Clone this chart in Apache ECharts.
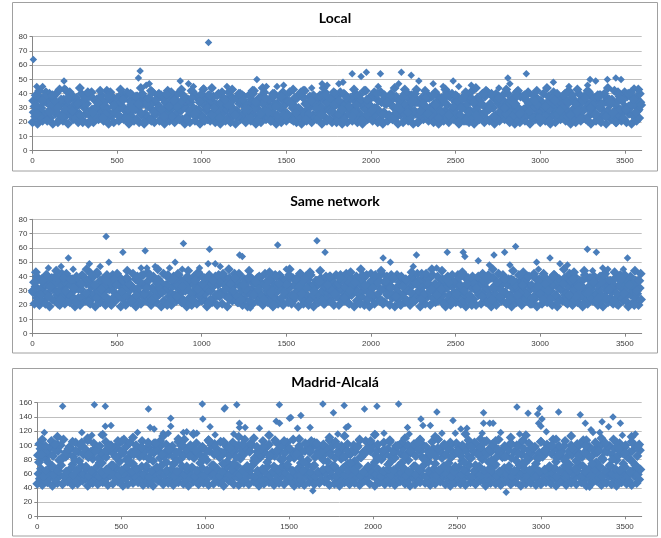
<!DOCTYPE html>
<html>
<head>
<meta charset="utf-8">
<title>Latency scatter</title>
<script src="https://cdn.jsdelivr.net/npm/echarts@6/dist/echarts.min.js"></script>
<style>
html, body { margin: 0; padding: 0; background: #fff; }
#main { width: 661px; height: 538px; }
</style>
</head>
<body>
<div id="main"></div>
<script>
// chart titles
var titles = ['Local', 'Same network', 'Madrid-Alcalá'];

var localBand1 = [20,19,21,22,19,20,21,19,22,20,21,19,20,22,21,19,20,21,22,19,
  21,20,19,22,20,21,19,21,20,22,19,20,21,19,22,21,20,19,21,20,
  19,22,20,21,19,20,22,21,19,20,21,22,20,19,21,20,22,19,21,20,
  22,19,20,21,20,19,22,21,20,19,21,22,19,20,21,19,20,22,21,20,
  19,21,20,22,19,21,20,19,22,20,21,19,21,22,20,19,20,21,19,22,
  20,21,19,20,22,21,19,20,21,22,19,21,20,19,22,20,21,20,19,21];
var localBand2 = [24,22,25,23,26,22,24,25,23,22,26,24,23,25,22,24,26,23,25,24,
  22,25,24,23,26,22,25,24,23,22,24,26,25,23,22,24,25,26,23,24,
  25,23,22,26,24,25,23,24,22,26,23,25,24,22,25,23,26,24,22,25,
  23,24,26,22,25,23,24,25,22,26,24,23,25,22,24,26,23,25,24,22,
  26,23,24,25,22,24,23,26,25,22,23,24,26,25,23,22,24,25,23,26,
  22,24,25,23,26,24,22,25,23,24,26,22,25,24,23,25,22,26,24,23];
var localBand3 = [27,29,26,28,30,25,27,29,28,26,30,27,25,28,29,26,27,30,28,25,
  29,27,26,30,28,27,25,29,26,28,30,27,29,25,28,26,27,30,29,26,
  28,25,27,29,30,26,28,27,25,29,26,30,28,27,29,25,26,28,30,27,
  26,29,28,25,27,30,26,29,28,27,25,30,27,26,29,28,25,27,30,26,
  29,28,26,27,25,30,28,29,26,27,30,25,28,26,29,27,28,30,25,29,
  27,26,30,28,25,29,27,26,28,30,27,25,29,28,26,30,27,29,25,28];
var localBand4 = [32,30,34,31,29,33,32,30,31,34,33,29,31,32,30,34,33,31,29,32,
  30,33,31,34,32,29,30,33,32,31,34,30,29,32,33,31,30,34,32,29,
  33,31,32,30,34,29,31,33,30,32,34,31,29,33,32,30,31,34,29,32,
  31,34,30,32,33,29,31,30,34,33,32,29,30,31,33,34,32,30,29,31,
  34,32,29,31,30,33,34,31,32,29,30,33,31,34,32,30,29,33,31,32,
  30,29,33,32,31,34,30,32,29,33,31,30,34,32,33,29,31,30,32,34];
var localBand5 = [35,37,34,36,38,33,36,35,37,34,33,38,36,35,34,37,33,36,38,35,
  34,36,37,33,35,38,34,37,36,33,35,34,38,36,37,35,33,34,36,38,
  37,35,33,36,34,38,35,37,33,36,35,34,37,38,33,36,35,37,34,36,
  38,33,35,36,37,34,33,38,35,36,34,37,35,33,36,38,34,35,37,33,
  36,34,38,35,33,37,36,34,35,38,33,36,37,34,35,33,38,36,34,37,
  35,33,36,38,34,35,37,33,36,34,38,35,33,37,36,34,35,38,33,36];
var localBand6 = [39,37,41,38,40,36,42,39,37,40,38,41,36,39,42,38,37,40,41,39,
  38,40,36,41,39,37,42,38,40,39,36,41,37,43,39,38,40,37,41,36,
  40,38,39,42,37,41,36,40,38,39,41,37,40,42,38,36,39,41,37,40,
  41,39,37,40,36,42,38,39,41,37,40,38,36,41,39,43,37,40,38,39,
  37,41,40,38,36,39,42,37,40,41,38,36,39,40,37,42,38,41,39,36,
  40,38,41,37,39,42,36,40,38,41,37,39,40,36,42,38,41,39,37,40];
var localBand7 = [42,40,43,41,44,39,42,41,43,40,44,42,39,41,43,42,40,44,41,43,
  39,42,44,40,41,43,42,39,44,41,40,43,42,41,39,44,43,40,42,41,
  43,39,41,44,42,40,43,41,39,42,44,40,41,43,42,39,44,41,40,43];
var localFill1 = [31,24,38,27,35,22,29,40,33,25,37,21,30,36,26,39,28,34,23,32,
  38,26,33,21,36,29,40,24,31,35,22,37,27,34,30,25,39,23,32,28,
  24,36,29,40,22,33,27,38,31,25,35,21,30,37,26,34,23,39,28,32,
  35,22,31,27,39,24,36,30,21,33,38,26,29,40,23,34,28,37,25,32,
  27,39,23,34,30,21,37,25,33,28,40,22,36,31,24,38,26,35,29,32,
  22,33,37,26,30,24,39,28,35,21,32,38,25,34,27,40,23,31,36,29];
var localFill2 = [26,35,21,39,30,24,37,28,33,20,41,27,34,23,38,31,25,36,22,29,
  33,20,37,27,40,24,31,35,22,38,28,26,34,21,39,30,23,36,32,25,
  40,29,23,34,26,37,21,31,38,24,33,27,41,22,35,30,25,39,28,20,
  29,37,24,32,21,36,28,40,25,34,22,31,38,27,35,20,33,26,39,23,
  36,25,31,20,38,27,34,22,40,29,24,37,30,21,33,26,39,28,35,23,
  31,21,35,28,40,25,33,22,37,30,26,39,24,34,20,36,29,41,27,32];
var localOutliers = [[5,64],[25,45],[60,45],[186,49],[190,44],[626,51],[636,56],[672,46],
  [690,47],[873,49],[922,47],[951,45],[1012,44],[1040,76],[1149,45],[1326,50],[1382,45],
  [1445,45],[1484,46],[1650,44],[1711,47],[1741,46],[1810,47],[1835,48],[1889,54],[1942,52],
  [1973,55],[2043,45],[2056,54],[2164,47],[2180,55],[2238,53],[2283,49],[2368,47],[2427,45],
  [2486,49],[2519,45],[2593,46],[2756,44],[2809,51],[2821,47],[2918,54],[3078,48],[3170,45],
  [3218,43],[3280,46],[3295,50],[3328,49],[3397,50],[3447,51],[3478,50],[3555,44]];

// Same network
var sameBand1 = [21,20,22,19,23,20,21,22,19,20,23,21,19,22,20,21,23,19,20,22,
  19,21,23,20,22,19,21,20,23,22,19,20,21,23,19,22,20,21,19,23,
  22,20,19,21,23,20,22,19,21,20,22,23,19,21,20,19,22,21,23,20,
  20,23,21,19,22,20,19,21,23,22,20,19,21,22,20,23,19,21,20,22,
  23,19,20,22,21,19,23,20,21,22,19,20,23,21,19,22,20,23,21,19,
  21,22,20,19,23,21,20,22,19,21,23,20,19,22,21,20,23,19,22,20];
var sameBand2 = [25,23,26,24,27,23,25,26,24,23,27,25,24,26,23,25,27,24,26,25,
  23,26,25,24,27,23,26,25,24,23,25,27,26,24,23,25,26,27,24,25,
  26,24,23,27,25,26,24,25,23,27,24,26,25,23,26,24,27,25,23,26,
  24,25,27,23,26,24,25,26,23,27,25,24,26,23,25,27,24,26,25,23,
  27,24,25,26,23,25,24,27,26,23,24,25,27,26,24,23,25,26,24,27,
  23,25,26,24,27,25,23,26,24,25,27,23,26,25,24,26,23,27,25,24];
var sameBand3 = [29,27,30,28,31,29,27,28,30,31,27,29,28,30,27,31,29,28,27,30,
  31,28,29,27,30,28,31,29,27,28,30,29,31,27,28,30,27,29,31,28,
  27,30,28,31,29,27,30,28,29,31,28,27,30,29,27,31,28,30,29,27,
  30,29,27,31,28,30,29,27,28,31,30,27,29,28,31,27,30,28,29,30,
  28,31,27,29,30,28,27,31,29,30,27,28,31,29,27,30,28,29,31,27,
  29,28,30,27,31,29,28,30,27,29,31,28,27,30,29,28,31,27,30,28];
var sameBand4 = [33,31,34,32,35,31,33,34,32,31,35,33,32,34,31,33,35,32,34,33,
  31,34,33,32,35,31,34,33,32,31,33,35,34,32,31,33,34,35,32,33,
  34,32,31,35,33,34,32,33,31,35,32,34,33,31,34,32,35,33,31,34,
  32,33,35,31,34,32,33,34,31,35,33,32,34,31,33,35,32,34,33,31,
  35,32,33,34,31,33,32,35,34,31,32,33,35,34,32,31,33,34,32,35,
  31,33,34,32,35,33,31,34,32,33,35,31,34,33,32,34,31,35,33,32];
var sameBand5 = [36,38,35,37,39,34,36,38,37,35,39,36,34,37,38,35,36,39,37,34,
  38,36,35,39,37,36,34,38,35,37,39,36,38,34,37,35,36,39,38,35,
  37,34,36,38,39,35,37,36,34,38,35,39,37,36,38,34,35,37,39,36,
  35,38,37,34,36,39,35,38,37,36,34,39,36,35,38,37,34,36,39,35,
  38,37,35,36,34,39,37,38,35,36,39,34,37,35,38,36,37,39,34,38,
  36,35,39,37,34,38,36,35,37,39,36,34,38,37,35,39,36,38,34,37];
var sameBand6 = [40,38,41,39,37,42,40,38,39,41,37,40,42,38,39,41,40,37,38,42,
  39,41,37,40,38,42,39,40,41,37,38,40,42,39,41,38,37,40,39,42,
  41,38,40,37,39,42,38,41,40,37,39,38,42,40,41,37,39,40,38,41,
  37,42,39,40,38,41,37,39,42,40,38,41,39,37,40,42,38,39,41,40,
  38,40,37,41,42,39,38,40,37,41,39,42,40,38,37,41,39,40,42,38,
  40,37,41,38,39,42,40,37,41,39,38,40,42,37,39,41,38,40,37,42];
var sameBand7 = [43,41,44,42,40,45,43,41,42,44,40,43,45,41,42,44,43,40,41,45,
  42,44,40,43,41,45,42,43,44,40,41,43,45,42,44,41,40,43,42,45,
  44,41,43,40,42,45,41,44,43,40,42,41,45,43,44,40,42,43,41,44];
var sameFill1 = [30,23,37,26,34,21,39,28,32,25,36,22,40,29,33,24,38,27,31,35,
  22,36,28,41,25,32,30,23,38,26,34,21,37,29,33,24,40,27,31,35,
  39,24,31,27,36,22,33,29,40,25,35,21,38,28,32,26,37,23,34,30,
  26,38,22,34,29,41,24,32,36,21,28,39,25,33,30,23,37,27,35,31,
  33,21,36,25,39,30,23,35,28,40,22,32,26,38,24,34,29,37,21,31,
  28,35,24,40,31,22,37,26,33,29,39,23,36,25,32,21,38,27,34,30];
var sameFill2 = [36,27,21,33,40,24,30,38,22,35,28,42,25,31,37,20,34,29,39,23,
  27,41,32,23,36,29,20,38,26,33,40,24,31,35,21,37,28,42,25,30,
  22,34,39,27,31,24,37,20,35,29,41,26,33,38,23,30,36,21,40,28,
  39,25,30,36,21,34,28,41,23,37,32,26,20,38,29,35,24,42,31,27,
  31,38,23,28,41,35,20,32,26,39,24,36,30,22,37,27,34,40,25,33,
  24,30,40,22,35,27,38,33,21,29,36,25,41,31,23,39,28,34,20,37];
var sameOutliers = [[94,46],[169,47],[212,53],[240,45],[336,49],[400,47],[435,68],[451,50],
  [534,57],[642,46],[666,58],[676,46],[725,47],[810,46],[843,50],[885,45],[892,63],[987,46],
  [1038,49],[1046,59],[1080,49],[1109,47],[1224,55],[1240,54],[1287,18],[1449,62],[1500,45],
  [1681,65],[1729,57],[2072,53],[2115,50],[2250,47],[2269,55],[2388,46],[2451,57],[2545,57],
  [2555,54],[2634,51],[2700,48],[2727,55],[2790,57],[2821,48],[2855,61],[2979,50],[2990,45],
  [3058,53],[3117,49],[3161,48],[3279,59],[3310,44],[3332,57],[3370,46],[3400,45],[3492,45],[3516,53]];

// Madrid-Alcalá
var madridBand1 = [46,44,48,43,47,45,49,44,46,50,43,47,45,48,44,46,49,43,45,47,
  48,44,46,43,50,45,47,44,48,46,43,49,45,47,44,46,48,43,50,45,
  44,47,45,49,43,46,48,44,47,45,50,43,46,44,48,45,47,49,44,46,
  43,48,45,47,44,50,46,43,48,45,47,44,49,46,43,45,48,47,44,46,
  49,45,43,47,46,44,48,45,50,43,47,46,44,49,45,48,43,46,47,44,
  45,48,46,43,49,44,47,45,48,43,46,50,44,47,45,43,48,46,44,47];
var madridBand2 = [53,50,55,52,57,49,54,51,56,53,50,55,49,52,57,54,51,53,56,50,
  55,52,49,54,57,51,53,50,56,52,55,49,54,51,57,53,50,55,52,56,
  51,54,57,49,53,55,50,52,56,54,49,53,51,57,55,50,52,54,56,49,
  54,51,53,56,50,55,57,52,49,53,51,56,54,50,55,52,57,49,53,51,
  56,53,50,54,52,57,49,55,51,53,56,50,54,52,49,57,53,51,55,50,
  52,55,54,49,56,51,53,57,50,54,52,55,49,56,53,51,54,50,57,52];
var madridBand3 = [60,57,62,59,64,56,61,58,63,60,57,62,56,59,64,61,58,60,63,57,
  62,59,56,61,64,58,60,57,63,59,62,56,61,58,64,60,57,62,59,63,
  58,61,64,56,60,62,57,59,63,61,56,60,58,64,62,57,59,61,63,56,
  61,58,60,63,57,62,64,59,56,60,58,63,61,57,62,59,64,56,60,58,
  63,60,57,61,59,64,56,62,58,60,63,57,61,59,56,64,60,58,62,57,
  59,62,61,56,63,58,60,64,57,61,59,62,56,63,60,58,61,57,64,59];
var madridBand4 = [67,64,70,66,72,63,68,65,71,67,64,69,63,66,72,68,65,70,63,67,
  70,66,64,69,72,65,67,63,71,66,69,64,68,65,72,67,63,70,66,71,
  65,68,72,64,67,70,63,66,71,69,64,67,65,72,70,63,66,68,71,64,
  68,65,67,71,63,69,72,66,64,67,65,71,68,63,70,66,72,64,67,65,
  71,67,63,69,66,72,64,70,65,67,71,63,68,66,64,72,67,65,69,63,
  66,70,68,64,71,65,67,72,63,68,66,70,64,71,67,65,69,63,72,66];
var madridBand5 = [76,82,71,79,84,73,78,70,81,75,83,72,77,80,74,84,71,78,82,76,
  73,80,70,83,75,79,72,84,77,74,81,71,78,83,76,70,80,73,82,75,
  79,72,84,77,71,81,74,78,83,70,76,80,73,82,75,79,71,84,77,74,
  82,75,70,78,84,72,80,76,73,83,71,79,75,81,74,84,70,77,82,73,
  78,71,83,76,80,72,79,74,81,70];
var madridBand6 = [86,83,90,85,92,82,88,84,91,87,83,89,82,86,92,88,84,90,83,87,
  90,85,82,89,92,84,87,83,91,86,89,82,88,84,92,87,83,90,85,91,
  84,88,92,82,87,90,83,85,91,89,82,86,84,92,90,83,85,88,91,82,
  88,84,87,91,83,89,92,86,82,87,84,91,88,83,90,85,92,82,86,84,
  91,87,83,89,85,92,82,90,84,86,91,83,88,85,82,92,87,84,89,83,
  85,90,88,82,91,84,86,92,83,88,85,90,82,91,87,84,89,83,92,85];
var madridBand7 = [95,91,98,93,100,90,96,92,99,94,91,97,90,93,100,96,92,98,90,95,
  98,93,91,97,100,92,95,90,99,94,97,91,96,92,100,95,90,98,93,99,
  92,96,100,91,95,98,90,93,99,97,91,94,92,100,98,90,93,96,99,91,
  96,92,94,99,90,97,100,93,91,95,92,99,96,90,98,94,100,91,95,92,
  99,95,90,97,93,100,91,98,92,94,99,90,96,93,91,100,95,92,97,90,
  93,98,96,91,99,92,94,100,90,96,93,98,91,99,95,92,97,90,100,93];
var madridBand8 = [102,99,106,101,108,98,104,100,107,103,99,105,98,101,108,104,100,106,98,103,
  106,101,99,105,108,100,103,98,107,102,105,99,104,100,108,103,98,106,101,107,
  100,104,108,99,103,106,98,101,107,105,99,102,100,108,106,98,101,104,107,99,
  104,100,102,107,98,105,108,101,99,103,100,107,104,98,106,102,108,99,103,100,
  107,103,98,105,101,108,99,106,100,102,107,98,104,101,99,108,103,100,105,98];
var madridBand9 = [108,112,105,110,115,106,111,104,113,109,116,107,105,112,110,114,106,109,104,111,
  113,107,115,105,110,108,112,104,116,109,106,111,114,105,108,113,107,110,104,112];
var madridFill1 = [88,76,101,82,95,79,104,86,92,75,99,84,106,78,90,97,81,103,87,94,
  77,100,85,93,80,105,89,74,96,83,102,91,78,98,86,104,81,95,88,76,
  93,103,79,87,100,84,75,97,90,106,82,94,77,99,85,92,104,80,89,96,
  101,83,91,76,98,87,105,79,94,84,102,88,75,97,81,93,100,86,78,95,
  85,99,74,92,103,80,96,89,77,101];
var madridOutliers = [[42,118],[151,155],[265,118],[325,114],[340,157],[380,115],[405,155],
  [405,127],[439,128],[597,118],[662,151],[672,125],[696,123],[750,117],[780,117],[795,138],
  [795,127],[870,118],[890,119],[950,117],[983,158],[986,137],[1029,126],[1059,115],[1113,151],
  [1119,153],[1170,116],[1188,157],[1204,131],[1204,125],[1238,125],[1323,124],[1423,134],
  [1442,157],[1443,131],[1502,138],[1510,139],[1550,124],[1570,142],[1625,125],[1641,36],
  [1701,158],[1764,146],[1790,116],[1828,156],[1840,125],[1852,127],[1949,151],[2015,116],
  [2023,155],[2065,117],[2152,158],[2205,125],[2215,116],[2285,137],[2297,128],[2341,128],
  [2380,147],[2410,117],[2476,135],[2490,117],[2523,123],[2559,124],[2650,117],[2658,146],
  [2658,131],[2695,131],[2715,131],[2760,118],[2793,34],[2857,154],[2873,116],[2923,145],
  [2980,144],[2986,131],[2992,152],[3000,127],[3006,137],[3032,119],[3105,147],[3234,143],
  [3264,131],[3290,41],[3298,122],[3310,118],[3350,118],[3364,133],[3403,126],[3429,140],
  [3473,131],[3485,114],[3562,116]];

// y axis ranges per panel
var yMax = [80, 80, 160];
var yStep = [10, 10, 20];

// slice -> [sample index, value] (first sample, sample spacing)
function slice(values, first, every) {
    return values.map(function(v, i) { return [first + i * every, v]; });
}

var bandData = [
    [].concat(slice(localBand1, 0, 30), slice(localBand2, 15, 30), slice(localBand3, 7, 30),
        slice(localBand4, 22, 30), slice(localBand5, 4, 30), slice(localBand6, 19, 30),
        slice(localBand7, 40, 60), slice(localFill1, 12, 30), slice(localFill2, 27, 30)),
    [].concat(slice(sameBand1, 11, 30), slice(sameBand2, 26, 30), slice(sameBand3, 3, 30),
        slice(sameBand4, 18, 30), slice(sameBand5, 9, 30), slice(sameBand6, 24, 30),
        slice(sameBand7, 20, 60), slice(sameFill1, 1, 30), slice(sameFill2, 16, 30)),
    [].concat(slice(madridBand1, 0, 30), slice(madridBand2, 15, 30), slice(madridBand3, 7, 30),
        slice(madridBand4, 22, 30), slice(madridBand5, 10, 40), slice(madridBand6, 4, 30),
        slice(madridBand7, 19, 30), slice(madridBand8, 12, 36), slice(madridBand9, 30, 90),
        slice(madridFill1, 25, 40))
];
var outlierData = [localOutliers, sameOutliers, madridOutliers];

var myChart = echarts.init(document.getElementById('main'));

var grids = [
    { left: 32.5, top: 36.7, width: 609.2, height: 114 },
    { left: 32.5, top: 219.3, width: 609.2, height: 114.4 },
    { left: 37.3, top: 402.7, width: 604.4, height: 113.6 }
];
var boxes = [[12.5, 2.5, 645, 168.5], [12.5, 186.5, 645, 166.5], [12.5, 368.5, 645, 167.5]];
var titleTops = [11, 194, 375];

var labelStyle = { fontSize: 8, color: '#404040', fontFamily: 'Liberation Sans' };

function dots(data, i, size) {
    return {
        type: 'scatter',
        xAxisIndex: i,
        yAxisIndex: i,
        symbol: 'diamond',
        symbolSize: size,
        clip: false,
        itemStyle: { color: '#4a7ebb', opacity: 1 },
        data: data
    };
}

var series = [];
for (var i = 0; i < 3; i++) {
    series.push(dots(bandData[i], i, 10));
    series.push(dots(outlierData[i], i, 7.5));
}

var option = {
    animation: false,
    title: titles.map(function(t, i) {
        return {
            text: t,
            left: 335,
            top: titleTops[i],
            textAlign: 'center',
            padding: 0,
            textStyle: { fontSize: 14, fontWeight: 'bold', color: '#000', fontFamily: 'Lato' }
        };
    }),
    graphic: boxes.map(function(b) {
        return {
            type: 'rect',
            shape: { x: b[0], y: b[1], width: b[2], height: b[3] },
            style: { fill: null, stroke: '#a0a0a0', lineWidth: 1 },
            silent: true
        };
    }),
    grid: grids,
    xAxis: grids.map(function(g, i) {
        return {
            gridIndex: i,
            type: 'value',
            min: 0,
            max: 3600,
            interval: 500,
            splitLine: { show: false },
            axisLine: { lineStyle: { color: '#868686' } },
            axisTick: { length: 3, lineStyle: { color: '#868686' } },
            axisLabel: Object.assign({
                margin: 6,
                showMaxLabel: false,
                formatter: function(v) { return String(v); }
            }, labelStyle)
        };
    }),
    yAxis: grids.map(function(g, i) {
        return {
            gridIndex: i,
            type: 'value',
            min: 0,
            max: yMax[i],
            interval: yStep[i],
            axisLine: { show: true, lineStyle: { color: '#868686' } },
            axisTick: { show: true, length: 3, lineStyle: { color: '#868686' } },
            splitLine: { lineStyle: { color: '#bfbfbf' } },
            axisLabel: Object.assign({ margin: 5 }, labelStyle)
        };
    }),
    series: series
};

myChart.setOption(option);
</script>
</body>
</html>
